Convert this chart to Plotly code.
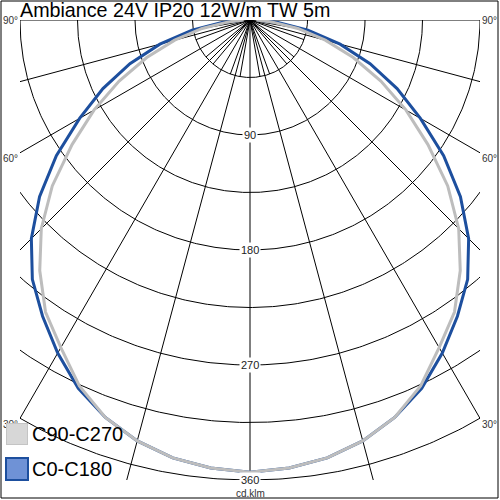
import numpy as np
import plotly.graph_objects as go

# ---------------- data ----------------
TITLE = "Ambiance 24V IP20 12W/m TW 5m"
UNIT = "cd.klm"
GAMMA = [0, 5, 10, 15, 20, 25, 30, 35, 40, 45, 50, 55, 60, 65, 70, 75, 80, 85, 90]
C0_C180 = [354, 352, 348, 341, 331, 318, 301, 283, 265, 242, 215, 185, 154, 127, 100, 73, 46, 22, 6]
C90_C270 = [354, 352, 348, 341, 331, 316, 296, 279, 256, 231, 202, 170, 141, 113, 86, 61, 38, 17, 5]
SERIES_NAMES = ["C90-C270", "C0-C180"]
RINGS = [45, 90, 135, 180, 225, 270, 315, 360]
RING_LABELS = [90, 180, 270, 360]
SPOKES = list(range(-90, 91, 15))
FINE_SPOKES = [a for a in range(-80, 81, 10) if a % 15 != 0]
ANGLE_LABELS = [90, 60, 30]
RMAX = 360

# ---------------- style ----------------
FONT = "Arial, Liberation Sans, sans-serif"
BLUE = "#1d4f9e"
GRAY = "#bdbdbd"
W, H = 500, 500
L, T = 20, 20
PLOT = 460
K = PLOT / RMAX  # px per cd/klm


def xy(r, g):
    g = np.radians(np.asarray(g, dtype=float))
    r = np.asarray(r, dtype=float)
    return r * np.sin(g), -r * np.cos(g)


def full_curve(vals):
    g = [-a for a in GAMMA[::-1]] + GAMMA[1:]
    v = list(vals[::-1]) + list(vals[1:])
    return xy(v, g)


def px_x(px):
    return (px - L) / PLOT


def px_y(py):
    return (T + PLOT - py) / PLOT


fig = go.Figure()

# grid circles
gx, gy = [], []
arc = np.linspace(-90, 90, 361)
for r in RINGS:
    x, y = xy(np.full_like(arc, r), arc)
    gx += list(x) + [None]
    gy += list(y) + [None]
# main spokes
for a in SPOKES:
    x, y = xy([0, RMAX * 1.5], [a, a])
    gx += list(x) + [None]
    gy += list(y) + [None]
# fine spokes near the centre
for a in FINE_SPOKES:
    x, y = xy([0, RINGS[0]], [a, a])
    gx += list(x) + [None]
    gy += list(y) + [None]

fig.add_trace(go.Scatter(x=gx, y=gy, mode="lines", line=dict(color="black", width=1),
                         hoverinfo="skip", showlegend=False))

# curves
bx, by = full_curve(C0_C180)
fig.add_trace(go.Scatter(x=bx, y=by, mode="lines", line=dict(color=BLUE, width=3),
                         name=SERIES_NAMES[1], showlegend=False))
cx, cy = full_curve(C90_C270)
fig.add_trace(go.Scatter(x=cx, y=cy, mode="lines", line=dict(color=GRAY, width=3),
                         name=SERIES_NAMES[0], showlegend=False))

annotations = []
# angle labels
label_py = {90: 20, 60: 158, 30: 424}
for a in ANGLE_LABELS:
    for side in (-1, 1):
        annotations.append(dict(
            x=px_x(19) if side < 0 else px_x(481), y=px_y(label_py[a]),
            xref="paper", yref="paper", text=f"{a}°", showarrow=False,
            font=dict(family=FONT, size=10, color="#333333"),
            xanchor="right" if side < 0 else "left", yanchor="middle", borderpad=0))

for v in RING_LABELS:
    annotations.append(dict(x=0, y=-v, xref="x", yref="y", text=str(v), showarrow=False,
                            font=dict(family=FONT, size=11, color="#222222"),
                            bgcolor="white", borderpad=1, xanchor="center", yanchor="middle"))
annotations.append(dict(x=0, y=-RMAX, xref="x", yref="y", text=UNIT, showarrow=False, yshift=-13,
                        font=dict(family=FONT, size=10, color="#333333"),
                        xanchor="center", yanchor="middle"))
annotations.append(dict(x=px_x(18), y=px_y(10), xref="paper", yref="paper", text=TITLE,
                        showarrow=False, font=dict(family=FONT, size=19.7, color="black"),
                        xanchor="left", yanchor="middle"))
# legend boxes and texts
leg_y = [433.5, 468.5]
leg_fill = ["#d7d7d7", "#6f92d6"]
leg_line = ["#c4c4c4", BLUE]
for name, py, fc, lc in zip(SERIES_NAMES, leg_y, leg_fill, leg_line):
    annotations.append(dict(x=px_x(16.5), y=px_y(py), xref="paper", yref="paper", text=" ",
                            showarrow=False, width=20, height=20, bgcolor=fc, bordercolor=lc,
                            borderwidth=2 if lc == BLUE else 1, borderpad=0,
                            xanchor="center", yanchor="middle"))
    annotations.append(dict(x=px_x(30), y=px_y(py), xref="paper", yref="paper", text=name,
                            showarrow=False, font=dict(family=FONT, size=20, color="black"),
                            xanchor="left", yanchor="middle"))

shapes = [
    dict(type="rect", xref="paper", yref="paper", x0=px_x(1), x1=px_x(498), y0=px_y(498), y1=px_y(1),
         fillcolor="rgba(0,0,0,0)", line=dict(color="black", width=1), layer="above"),
]

fig.update_layout(
    width=W, height=H, margin=dict(l=L, r=W - L - PLOT, t=T, b=H - T - PLOT, pad=0),
    paper_bgcolor="white", plot_bgcolor="white", showlegend=False,
    xaxis=dict(range=[-RMAX / 2, RMAX / 2], visible=False, fixedrange=True),
    yaxis=dict(range=[-RMAX, 0], visible=False, fixedrange=True),
    annotations=annotations, shapes=shapes,
)

fig.write_html("out.html", config={"displayModeBar": False},
               post_script="document.body.style.margin='0';document.body.style.padding='0';")
